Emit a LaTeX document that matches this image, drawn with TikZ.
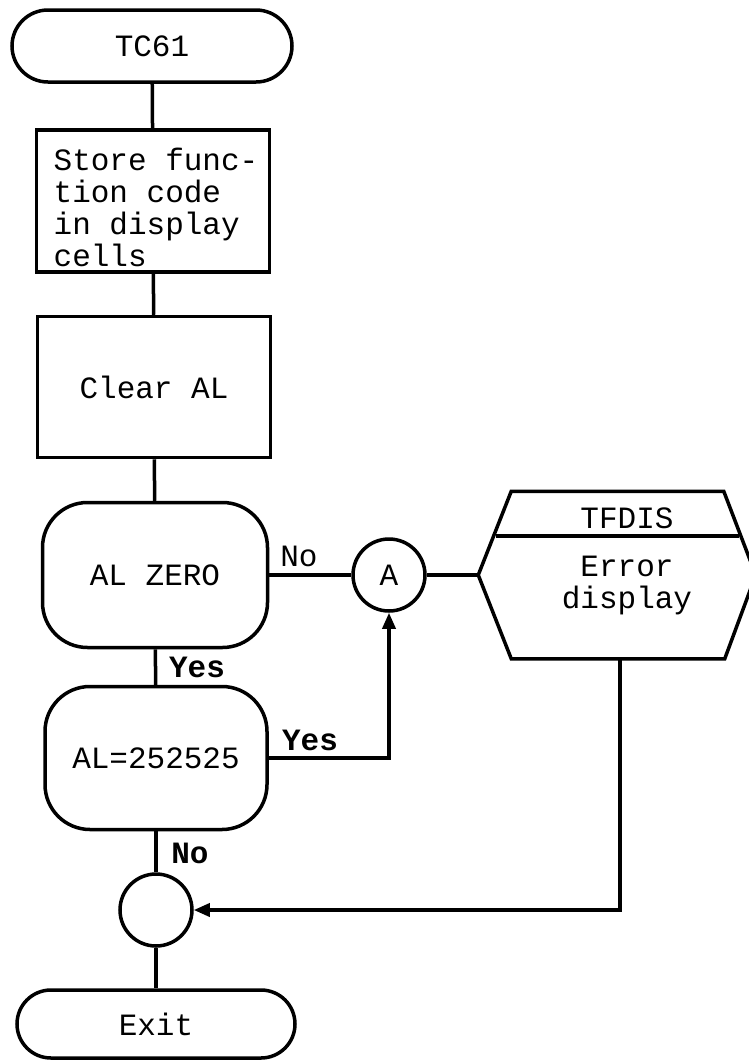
\documentclass[tikz,border=0pt]{standalone}
\usepackage{fontspec}
\setmainfont{Liberation Mono}
\usetikzlibrary{arrows.meta,calc}
\begin{document}
\begin{tikzpicture}[x=1pt,y=-1pt,
  line width=3.5pt,
  txt/.style={font=\fontsize{31}{32}\selectfont, inner sep=0pt},
  boldtxt/.style={font=\fontsize{31}{32}\selectfont\bfseries, inner sep=0pt},
  term/.style={draw, rounded corners=#1, inner sep=0pt, font=\fontsize{31}{32}\selectfont},
  procbox/.style={draw, inner sep=0pt, font=\fontsize{31}{32}\selectfont},
  conn/.style={draw, circle, inner sep=0pt, minimum size=72pt, font=\fontsize{31}{32}\selectfont},
  arr/.style={-{Triangle[length=16pt,width=13pt]}}
]
\fill[white] (0,0) rectangle (748,1061);
\useasboundingbox (0,0) rectangle (748,1061);

\node[term=36pt, minimum width=280pt, minimum height=72pt] (tc) at (152,46) {TC61};
\node[procbox, minimum width=233pt, minimum height=142pt] (store) at (153,201) {};
\node[txt, align=left] (storetxt) at (156,207) {Store func-\\tion code\\in display\\cells};
\node[procbox, minimum width=233pt, minimum height=141pt] (clear) at (154,387) {Clear AL};
\node[term=45pt, minimum width=225pt, minimum height=145pt] (zero) at (155,575) {AL ZERO};
\node[term=45pt, minimum width=222pt, minimum height=143pt] (chk) at (156,758) {AL=252525};
\node[conn] (A) at (389,575) {A};
\node[conn] (M) at (156,910) {};
\node[term=34pt, minimum width=278pt, minimum height=68pt] (exit) at (156,1024) {Exit};

% predefined process (hexagon)
\node[inner sep=0pt, minimum width=274pt, minimum height=164pt] (hex) at (617,575) {};
\draw[line join=miter] (hex.west) -- ($(hex.north west)+(33,0)$) -- ($(hex.north east)+(-32,0)$)
  -- (hex.east) -- ($(hex.south east)+(-31,0)$) -- ($(hex.south west)+(33,0)$) -- cycle;
\draw (495.7,536) -- (738.8,536);
\node[txt] (tfdis) at (627,518) {TFDIS};
\node[txt, align=center] (err) at (627,585) {Error\\display};

% connectors
\draw (tc) -- (store);
\draw (store) -- (clear);
\draw (clear) -- (zero);
\draw (zero) -- (chk);
\draw (chk) -- (M);
\draw (M) -- (exit);
\draw (zero) -- (A);
\draw (A) -- (hex.west);
\draw[arr] (chk.east) -| (A.south);
\draw[arr] ($(hex.south)+(3,0)$) |- (M.east);

% labels
\node[txt] (no1) at (299,556) {No};
\node[boldtxt] (yes1) at (197,667) {Yes};
\node[boldtxt] (yes2) at (310,740) {Yes};
\node[boldtxt] (no2) at (190,853) {No};
\end{tikzpicture}
\end{document}
